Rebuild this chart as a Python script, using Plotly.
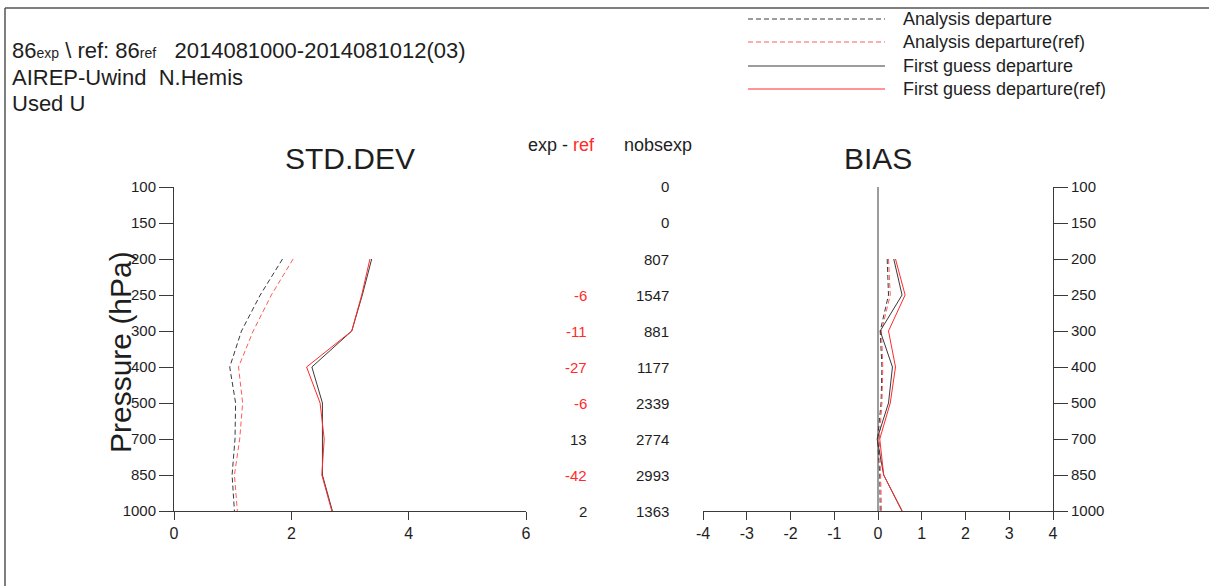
import plotly.graph_objects as go

W, H = 1209, 586

levels = ["100", "150", "200", "250", "300", "400", "500", "700", "850", "1000"]
plot_levels = ["200", "250", "300", "400", "500", "700", "850", "1000"]

# STD.DEV
std_an = [1.85, 1.47, 1.15, 0.95, 1.05, 1.04, 0.99, 1.03]
std_an_ref = [2.03, 1.66, 1.35, 1.10, 1.17, 1.12, 1.03, 1.08]
std_fg = [3.37, 3.21, 3.03, 2.35, 2.53, 2.53, 2.53, 2.70]
std_fg_ref = [3.34, 3.20, 3.03, 2.26, 2.49, 2.56, 2.52, 2.69]

# BIAS
bias_an = [0.21, 0.24, 0.05, 0.09, 0.07, -0.01, 0.04, 0.05]
bias_an_ref = [0.24, 0.28, 0.08, 0.11, 0.09, 0.03, 0.06, 0.08]
bias_fg = [0.36, 0.55, 0.05, 0.33, 0.24, -0.02, 0.13, 0.55]
bias_fg_ref = [0.40, 0.62, 0.24, 0.40, 0.28, 0.04, 0.13, 0.55]

exp_minus_ref = ["", "", "", "-6", "-11", "-27", "-6", "13", "-42", "2"]
nobsexp = ["0", "0", "807", "1547", "881", "1177", "2339", "2774", "2993", "1363"]

std_ticks = [0, 2, 4, 6]
bias_ticks = [-4, -3, -2, -1, 0, 1, 2, 3, 4]
bias_ticktext = ["-4", "-3", "-2", "-1", "0", "1", "2", "3", "4"]

legend_names = ["Analysis departure", "Analysis departure(ref)",
                "First guess departure", "First guess departure(ref)"]

BLACK = "#3a3a3a"
RED = "#ff2a2a"
RED_D = "#ff5a5a"
FONT = "Liberation Sans, Arial, sans-serif"
TXT = "#1e1e1e"

def px(x):
    return x / W

def py(y):
    return 1 - y / H

fig = go.Figure()

series = [
    (std_an, bias_an, BLACK, "5px,3px"),
    (std_an_ref, bias_an_ref, RED_D, "5px,3px"),
    (std_fg, bias_fg, BLACK, "solid"),
    (std_fg_ref, bias_fg_ref, RED, "solid"),
]
for i, (s, b, c, d) in enumerate(series):
    fig.add_trace(go.Scatter(x=s, y=plot_levels, mode="lines", name=legend_names[i],
                             line=dict(color=c, width=1, dash=d),
                             xaxis="x", yaxis="y", showlegend=False))
    fig.add_trace(go.Scatter(x=b, y=plot_levels, mode="lines", name=legend_names[i],
                             line=dict(color=c, width=1, dash=d),
                             xaxis="x2", yaxis="y2", showlegend=False))

ydom = [py(511), py(187)]
axis_common = dict(showgrid=False, zeroline=False, showline=True, linecolor=BLACK,
                   linewidth=1, ticks="outside", tickcolor=BLACK, tickwidth=1,
                   automargin=False)

fig.update_layout(
    width=W, height=H, autosize=False, margin=dict(l=0, r=0, t=0, b=0, pad=0),
    paper_bgcolor="white", plot_bgcolor="white",
    xaxis=dict(domain=[px(174), px(526)], range=[0, 6], tickvals=std_ticks,
               ticklen=8, anchor="y", tickfont=dict(family=FONT, size=16, color=TXT),
               **axis_common),
    xaxis2=dict(domain=[px(703), px(1053)], range=[-4, 4], tickvals=bias_ticks,
                ticktext=bias_ticktext,
                ticklen=8, anchor="y2", tickfont=dict(family=FONT, size=16, color=TXT),
                **axis_common),
    yaxis=dict(domain=ydom, type="category", categoryarray=levels, categoryorder="array",
               range=[9, 0], anchor="x", ticklen=14, side="left",
               tickfont=dict(family=FONT, size=15, color=TXT), **axis_common),
    yaxis2=dict(domain=ydom, type="category", categoryarray=levels, categoryorder="array",
                range=[9, 0], anchor="x2", ticklen=14, side="right",
                tickfont=dict(family=FONT, size=15, color=TXT), **axis_common),
    showlegend=False,
)

shapes = []
# zero line in BIAS
shapes.append(dict(type="line", xref="x2", yref="y2", x0=0, x1=0, y0=0, y1=9,
                   line=dict(color=BLACK, width=1)))
# frame
shapes.append(dict(type="line", xref="paper", yref="paper", x0=px(5), x1=1, y0=py(8), y1=py(8),
                   line=dict(color="#555555", width=1.5)))
shapes.append(dict(type="line", xref="paper", yref="paper", x0=px(5), x1=px(5), y0=py(8), y1=0,
                   line=dict(color="#555555", width=1.5)))
# legend
leg_y = [19, 42, 66, 89]
for i, (s, b, c, d) in enumerate(series):
    shapes.append(dict(type="line", xref="paper", yref="paper", x0=px(748), x1=px(885),
                       y0=py(leg_y[i]), y1=py(leg_y[i]), line=dict(color=c, width=1, dash=d)))
fig.update_layout(shapes=shapes)

ann = []
for i, name in enumerate(legend_names):
    ann.append(dict(text=name, xref="paper", yref="paper", x=px(901), y=py(leg_y[i]),
                    xanchor="left", yanchor="middle", showarrow=False,
                    font=dict(family=FONT, size=18, color=TXT)))
small = "<span style='font-size:14px'>%s</span>"
ann.append(dict(text="86" + small % "exp" + " \\ ref: 86" + small % "ref" + "\u00a0\u00a0 2014081000-2014081012(03)",
                xref="paper", yref="paper", x=px(10), y=py(50), xanchor="left", yanchor="middle",
                showarrow=False, font=dict(family=FONT, size=22, color=TXT)))
ann.append(dict(text="AIREP-Uwind\u00a0\u00a0N.Hemis", xref="paper", yref="paper", x=px(10), y=py(77),
                xanchor="left", yanchor="middle", showarrow=False,
                font=dict(family=FONT, size=22, color=TXT)))
ann.append(dict(text="Used U", xref="paper", yref="paper", x=px(10), y=py(103),
                xanchor="left", yanchor="middle", showarrow=False,
                font=dict(family=FONT, size=22, color=TXT)))
ann.append(dict(text="STD.DEV", xref="paper", yref="paper", x=px(350), y=py(158),
                xanchor="center", yanchor="middle", showarrow=False,
                font=dict(family=FONT, size=30, color=TXT)))
ann.append(dict(text="BIAS", xref="paper", yref="paper", x=px(878), y=py(158),
                xanchor="center", yanchor="middle", showarrow=False,
                font=dict(family=FONT, size=30, color=TXT)))
ann.append(dict(text="Pressure (hPa)", xref="paper", yref="paper", x=px(120), y=py(352),
                xanchor="center", yanchor="middle", showarrow=False, textangle=-90,
                font=dict(family=FONT, size=30, color=TXT)))
ann.append(dict(text="exp - <span style='color:#ff2a2a'>ref</span>", xref="paper", yref="paper",
                x=px(561), y=py(145), xanchor="center", yanchor="middle", showarrow=False,
                font=dict(family=FONT, size=18, color=TXT)))
ann.append(dict(text="nobsexp", xref="paper", yref="paper", x=px(658), y=py(145),
                xanchor="center", yanchor="middle", showarrow=False,
                font=dict(family=FONT, size=18, color=TXT)))
for idx, (d, n) in enumerate(zip(exp_minus_ref, nobsexp)):
    if d:
        col = RED if d.startswith("-") else TXT
        ann.append(dict(text=d, xref="paper", yref="y", x=px(589), y=idx, xanchor="right",
                        yanchor="middle", showarrow=False, font=dict(family=FONT, size=15, color=col)))
    ann.append(dict(text=n, xref="paper", yref="y", x=px(671), y=idx, xanchor="right",
                    yanchor="middle", showarrow=False, font=dict(family=FONT, size=15, color=TXT)))
fig.update_layout(annotations=ann)

fig.write_html("out.html", config={"responsive": False})
